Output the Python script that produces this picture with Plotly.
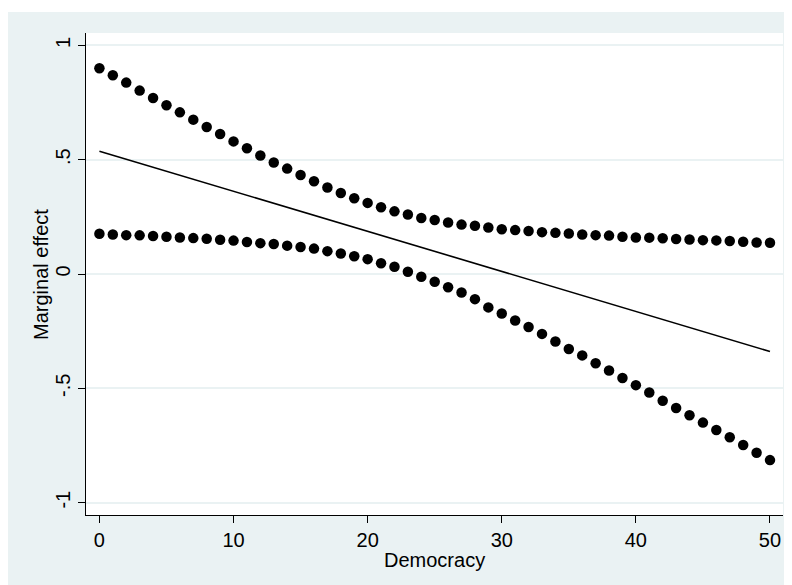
import plotly.graph_objects as go

# Data
democracy = list(range(0, 51))
upper_ci = [0.900, 0.869, 0.837, 0.802, 0.770, 0.738, 0.707, 0.675, 0.643, 0.612,
            0.580, 0.550, 0.518, 0.488, 0.461, 0.433, 0.406, 0.378, 0.354, 0.331,
            0.311, 0.292, 0.274, 0.260, 0.245, 0.236, 0.225, 0.216, 0.211, 0.203,
            0.196, 0.192, 0.188, 0.183, 0.180, 0.177, 0.173, 0.170, 0.168, 0.163,
            0.160, 0.159, 0.156, 0.153, 0.151, 0.148, 0.147, 0.144, 0.141, 0.138,
            0.137]
lower_ci = [0.176, 0.173, 0.170, 0.169, 0.166, 0.163, 0.160, 0.157, 0.154, 0.150,
            0.146, 0.140, 0.135, 0.131, 0.124, 0.118, 0.111, 0.100, 0.090, 0.078,
            0.065, 0.047, 0.032, 0.010, -0.012, -0.034, -0.058, -0.081, -0.110, -0.146,
            -0.173, -0.203, -0.232, -0.262, -0.295, -0.328, -0.356, -0.390, -0.422, -0.455,
            -0.486, -0.518, -0.554, -0.586, -0.618, -0.650, -0.682, -0.714, -0.748, -0.782,
            -0.814]
line_x = [0, 50]
line_y = [0.537, -0.339]

x_ticks = [0, 10, 20, 30, 40, 50]
y_ticks = [-1, -0.5, 0, 0.5, 1]
y_tick_labels = ["-1", "-.5", "0", ".5", "1"]
x_title = "Democracy"
y_title = "Marginal effect"

BG = "#EAF2F3"
FONT = "Liberation Sans"

fig = go.Figure()
fig.add_trace(go.Scatter(x=democracy, y=upper_ci, mode="markers",
                         marker=dict(color="black", size=10.5), showlegend=False))
fig.add_trace(go.Scatter(x=line_x, y=line_y, mode="lines",
                         line=dict(color="black", width=1.6), showlegend=False))
fig.add_trace(go.Scatter(x=democracy, y=lower_ci, mode="markers",
                         marker=dict(color="black", size=10.5), showlegend=False))

# outer light background band and white plot region
fig.add_shape(type="rect", xref="paper", yref="paper",
              x0=-0.1119, x1=1.0101, y0=-0.1452, y1=1.0436,
              fillcolor=BG, line=dict(width=0), layer="below")
fig.add_shape(type="rect", xref="paper", yref="paper",
              x0=0, x1=1, y0=0, y1=1,
              fillcolor="white", line=dict(width=0), layer="below")

# axis titles
fig.add_annotation(text=y_title, xref="paper", yref="paper",
                   x=-0.0646, y=0.5, textangle=-90, showarrow=False,
                   xanchor="center", yanchor="middle",
                   font=dict(family=FONT, size=20, color="black"))
fig.add_annotation(text=x_title, xref="paper", yref="paper",
                   x=0.5, y=-0.0934, showarrow=False,
                   xanchor="center", yanchor="middle",
                   font=dict(family=FONT, size=20, color="black"))

fig.update_layout(
    width=784, height=577,
    margin=dict(l=78, r=9, t=25, b=70),
    paper_bgcolor="white", plot_bgcolor="white",
    font=dict(family=FONT, size=20, color="black"),
    showlegend=False,
    xaxis=dict(range=[-1.0, 50.97], tickmode="array", tickvals=x_ticks,
               ticks="outside", ticklen=7, tickwidth=1, tickcolor="black",
               showline=True, linecolor="black", linewidth=1.2,
               showgrid=False, zeroline=False,
               tickfont=dict(family=FONT, size=20)),
    yaxis=dict(range=[-1.054, 1.054], tickmode="array", tickvals=y_ticks,
               ticktext=y_tick_labels, tickangle=-90,
               ticks="outside", ticklen=7, tickwidth=1, tickcolor="black",
               showline=True, linecolor="black", linewidth=1.2,
               showgrid=True, gridcolor=BG, gridwidth=1.5, zeroline=False,
               tickfont=dict(family=FONT, size=20)),
)

fig.write_html("out.html")
